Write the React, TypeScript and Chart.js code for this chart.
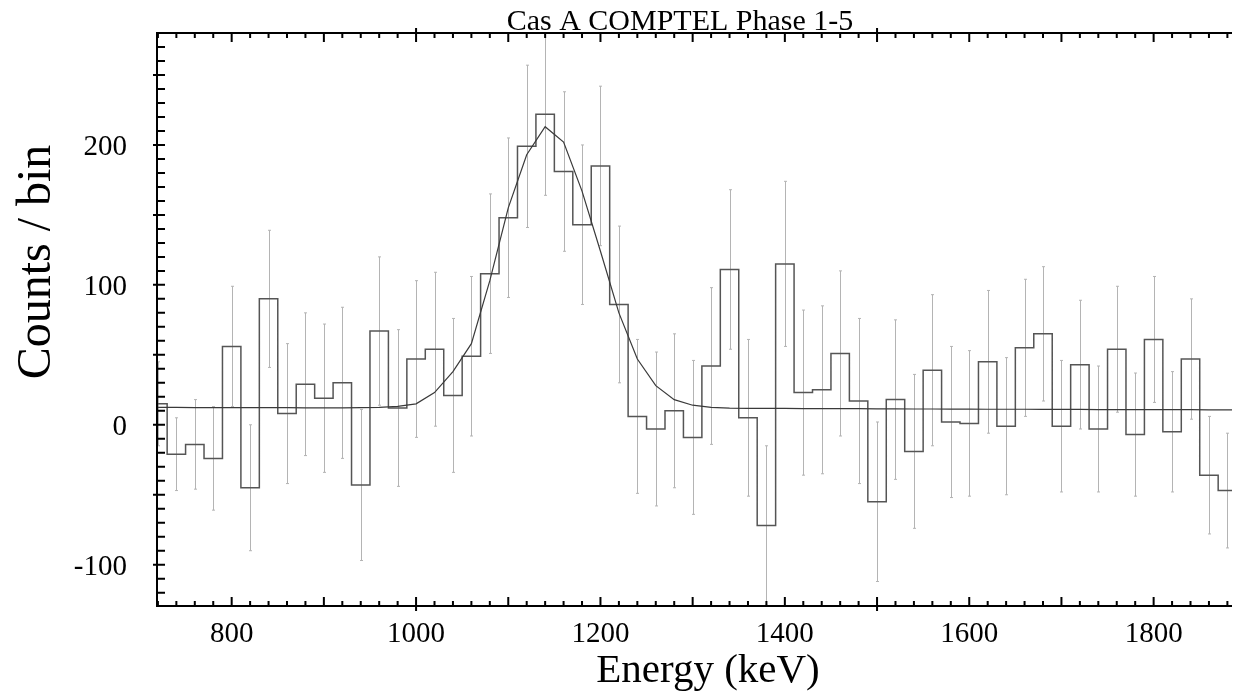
import React, { useEffect, useRef } from "react";
import { Chart, registerables } from "chart.js";

Chart.register(...registerables);

// ---- data ----
const binCenters = [
  720, 740, 760, 780, 800, 820, 840, 860, 880, 900, 920, 940, 960, 980,
  1000, 1020, 1040, 1060, 1080, 1100, 1120, 1140, 1160, 1180, 1200, 1220,
  1240, 1260, 1280, 1300, 1320, 1340, 1360, 1380, 1400, 1420, 1440, 1460,
  1480, 1500, 1520, 1540, 1560, 1580, 1600, 1620, 1640, 1660, 1680, 1700,
  1720, 1740, 1760, 1780, 1800, 1820, 1840, 1860, 1880,
];
const BIN_WIDTH = 20;

const counts = [
  15, -21, -14, -24, 56, -45, 90, 8, 29, 19, 30, -43, 67, 12,
  47, 54, 21, 49, 108, 148, 199, 222, 181, 143, 185, 86,
  6, -3, 10, -9, 42, 111, 5, -72, 115, 23, 25, 51,
  17, -55, 18, -19, 39, 2, 1, 45, -1, 55, 65, -1,
  43, -3, 54, -7, 61, -5, 47, -36, -47,
];

const countErrors = [
  30, 26, 32, 37, 43, 45, 49, 50, 51, 53, 54, 54, 53, 56,
  56, 55, 55, 57, 57, 57, 58, 58, 57, 57, 57, 56,
  55, 55, 55, 55, 56, 57, 56, 57, 59, 59, 60, 59,
  59, 57, 57, 55, 54, 54, 52, 51, 49, 49, 48, 47,
  46, 45, 45, 44, 45, 43, 43, 42, 41,
];

const fitEnergy = [...binCenters, 1900];
const fitCounts = [
  12.4, 12.4, 12.3, 12.3, 12.3, 12.2, 12.2, 12.2, 12.1, 12.1, 12.1, 12.2, 12.5, 13.2,
  15, 23, 38, 58, 103, 155, 193, 213, 202, 167, 124, 80,
  47, 28, 18, 14, 12.5, 11.9, 11.8, 11.7, 11.7, 11.6, 11.6, 11.5,
  11.5, 11.4, 11.4, 11.3, 11.3, 11.2, 11.2, 11.1, 11.1, 11.1, 11.0, 11.0,
  11.0, 10.9, 10.9, 10.9, 10.8, 10.8, 10.8, 10.7, 10.7, 10.7,
];

const xTickLabels = [800, 1000, 1200, 1400, 1600, 1800];
const yTickLabels = [-100, 0, 100, 200];

const X_MIN = 719;
const X_MAX = 1885;
const Y_MIN = -129.5;
const Y_MAX = 280;

const TITLE = "Cas A COMPTEL Phase 1-5";
const X_TITLE = "Energy (keV)";
const Y_TITLE = "Counts / bin";

const SERIF = "'Liberation Serif', 'Times New Roman', serif";

const errorBarPlugin = {
  id: "errorBars",
  beforeDatasetsDraw(chart: any) {
    const { ctx, chartArea: a } = chart;
    const xs = chart.scales.x;
    const ys = chart.scales.y;
    ctx.save();
    ctx.beginPath();
    ctx.rect(a.left, a.top, a.right - a.left, a.bottom - a.top);
    ctx.clip();
    ctx.strokeStyle = "#b4b4b4";
    ctx.lineWidth = 1;
    binCenters.forEach((c, i) => {
      const px = Math.round(xs.getPixelForValue(c)) + 0.5;
      const top = ys.getPixelForValue(counts[i] + countErrors[i]);
      const bot = ys.getPixelForValue(counts[i] - countErrors[i]);
      ctx.beginPath();
      ctx.moveTo(px, top);
      ctx.lineTo(px, bot);
      ctx.moveTo(px - 1.5, top);
      ctx.lineTo(px + 1.5, top);
      ctx.moveTo(px - 1.5, bot);
      ctx.lineTo(px + 1.5, bot);
      ctx.stroke();
    });
    ctx.restore();
  },
};

const framePlugin = {
  id: "frame",
  afterDraw(chart: any) {
    const { ctx, chartArea: a } = chart;
    const xs = chart.scales.x;
    const ys = chart.scales.y;
    ctx.save();
    ctx.strokeStyle = "#000";
    ctx.fillStyle = "#000";
    ctx.lineWidth = 2;
    // frame: left, bottom, top
    ctx.beginPath();
    ctx.moveTo(a.left, a.top);
    ctx.lineTo(a.left, a.bottom);
    ctx.moveTo(a.left - 1, a.bottom);
    ctx.lineTo(a.right, a.bottom);
    ctx.moveTo(a.left - 1, a.top);
    ctx.lineTo(a.right, a.top);
    ctx.stroke();

    // x ticks (top and bottom)
    ctx.lineWidth = 2;
    const xStart = Math.ceil(X_MIN / 20) * 20;
    ctx.beginPath();
    for (let v = xStart; v <= X_MAX; v += 20) {
      const px = xs.getPixelForValue(v);
      let inLen = 5;
      let outLen = 0;
      if (v % 500 === 0) {
        inLen = 9;
        outLen = 5;
      } else if (v % 100 === 0) {
        inLen = 9;
      }
      ctx.moveTo(px, a.bottom + outLen);
      ctx.lineTo(px, a.bottom - inLen);
      ctx.moveTo(px, a.top - outLen);
      ctx.lineTo(px, a.top + inLen);
    }
    // y ticks (left)
    const yStart = Math.ceil(Y_MIN / 10) * 10;
    for (let v = yStart; v <= Y_MAX; v += 10) {
      const py = ys.getPixelForValue(v);
      let inLen = 8;
      let outLen = 0;
      if (v % 50 === 0) {
        outLen = 4;
      }
      ctx.moveTo(a.left - outLen, py);
      ctx.lineTo(a.left + inLen, py);
    }
    ctx.stroke();

    // tick labels
    ctx.font = `29px ${SERIF}`;
    ctx.textAlign = "center";
    ctx.textBaseline = "alphabetic";
    xTickLabels.forEach((v) => {
      ctx.fillText(String(v), xs.getPixelForValue(v), a.bottom + 36);
    });
    ctx.textAlign = "right";
    yTickLabels.forEach((v) => {
      ctx.fillText(String(v), a.left - 30, ys.getPixelForValue(v) + 10);
    });

    // title
    ctx.font = `30px ${SERIF}`;
    ctx.textAlign = "center";
    ctx.fillText(TITLE, 680, a.top - 3);

    // x title
    ctx.font = `41px ${SERIF}`;
    ctx.fillText(X_TITLE, 708, 682);

    // y title
    ctx.save();
    ctx.translate(50, 262);
    ctx.rotate(-Math.PI / 2);
    ctx.font = `48px ${SERIF}`;
    ctx.textAlign = "center";
    ctx.fillText(Y_TITLE, 0, 0);
    ctx.restore();

    ctx.restore();
  },
};

export default function App() {
  const ref = useRef<HTMLCanvasElement>(null);

  useEffect(() => {
    const histPoints = binCenters.map((c, i) => ({ x: c - BIN_WIDTH / 2, y: counts[i] }));
    histPoints.push({
      x: binCenters[binCenters.length - 1] + BIN_WIDTH / 2,
      y: counts[counts.length - 1],
    });
    const fitPoints = fitEnergy.map((e, i) => ({ x: e, y: fitCounts[i] }));

    const chart = new Chart(ref.current as HTMLCanvasElement, {
      type: "line",
      data: {
        datasets: [
          {
            label: "fit",
            data: fitPoints,
            borderColor: "#3a3a3a",
            borderWidth: 1.2,
            pointRadius: 0,
            tension: 0,
            fill: false,
          },
          {
            label: "counts",
            data: histPoints,
            stepped: "before",
            borderColor: "#555555",
            borderWidth: 1.5,
            pointRadius: 0,
            fill: false,
          },
        ],
      },
      options: {
        responsive: false,
        devicePixelRatio: 1,
        animation: false,
        layout: { padding: { top: 33, right: 1, left: 0, bottom: 0 } },
        plugins: {
          legend: { display: false },
          tooltip: { enabled: false },
          title: { display: false },
        },
        scales: {
          x: {
            type: "linear",
            min: X_MIN,
            max: X_MAX,
            grid: { display: false },
            border: { display: false },
            ticks: { display: false },
            afterFit: (s: any) => {
              s.height = 91;
            },
          },
          y: {
            type: "linear",
            min: Y_MIN,
            max: Y_MAX,
            grid: { display: false },
            border: { display: false },
            ticks: { display: false },
            afterFit: (s: any) => {
              s.width = 157;
            },
          },
        },
      },
      plugins: [errorBarPlugin, framePlugin],
    } as any);

    return () => chart.destroy();
  }, []);

  return (
    <div
      style={{
        position: "fixed",
        left: 0,
        top: 0,
        width: 1233,
        height: 697,
        background: "#fff",
      }}
    >
      <canvas ref={ref} width={1233} height={697} style={{ display: "block" }} />
    </div>
  );
}
